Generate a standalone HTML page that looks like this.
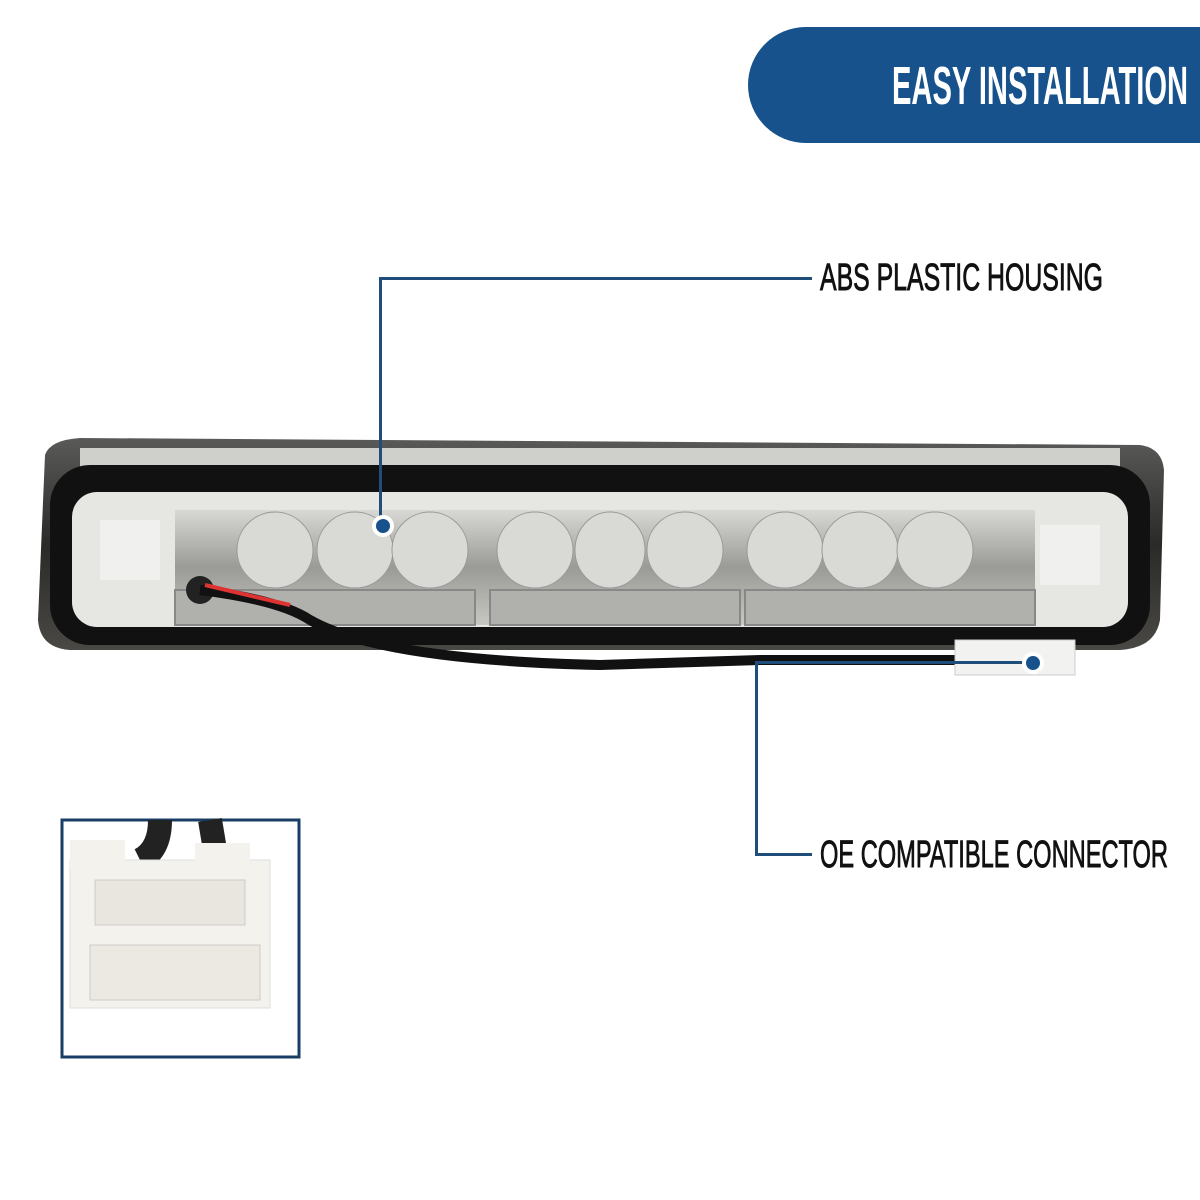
<!DOCTYPE html>
<html><head><meta charset="utf-8"><style>
html,body{margin:0;padding:0;background:#fff;}
body{width:1200px;height:1200px;position:relative;overflow:hidden;font-family:"Liberation Sans",sans-serif;}
.pill{position:absolute;left:748px;top:27px;width:470px;height:116px;background:#17528c;border-radius:58px 0 0 58px;}
.ln{position:absolute;background:#1f4e7a;}
.dot{position:absolute;width:14px;height:14px;border-radius:50%;background:#17528c;border:4px solid #fff;}
</style></head><body>
<div class="pill"></div>

<svg width="1200" height="1200" style="position:absolute;left:0;top:0">
  <defs>
    <linearGradient id="h" x1="0" y1="0" x2="0" y2="1">
      <stop offset="0" stop-color="#5a5a58"/><stop offset="0.5" stop-color="#2a2a28"/><stop offset="1" stop-color="#4a4844"/>
    </linearGradient>
    <linearGradient id="m" x1="0" y1="0" x2="0" y2="1">
      <stop offset="0" stop-color="#d8d8d4"/><stop offset="0.5" stop-color="#9a9a96"/><stop offset="1" stop-color="#c8c8c2"/>
    </linearGradient>
  </defs>
  <text x="892" y="104" font-family="Liberation Sans, sans-serif" font-weight="bold" font-size="54" fill="#fff" textLength="296" lengthAdjust="spacingAndGlyphs">EASY INSTALLATION</text>
  <text x="820" y="290" font-family="Liberation Sans, sans-serif" font-size="38" fill="#111" stroke="#111" stroke-width="0.9" textLength="283" lengthAdjust="spacingAndGlyphs">ABS PLASTIC HOUSING</text>
  <text x="820" y="867" font-family="Liberation Sans, sans-serif" font-size="38" fill="#111" stroke="#111" stroke-width="0.9" textLength="348" lengthAdjust="spacingAndGlyphs">OE COMPATIBLE CONNECTOR</text>

  <path d="M45 455 Q50 440 80 438 L1140 445 Q1162 448 1164 470 L1160 620 Q1155 648 1120 650 L70 650 Q40 648 38 620 Z" fill="url(#h)"/>
  <rect x="80" y="448" width="1040" height="40" fill="#cfcfcc"/>
  <rect x="50" y="465" width="1100" height="180" rx="40" fill="#111"/>
  <rect x="72" y="492" width="1056" height="135" rx="25" fill="#e6e6e2"/>
  <rect x="175" y="510" width="860" height="115" fill="url(#m)"/>
  <g fill="#b0b0ac" stroke="#888" stroke-width="2">
    <rect x="175" y="590" width="300" height="35"/>
    <rect x="490" y="590" width="250" height="35"/>
    <rect x="745" y="590" width="290" height="35"/>
  </g>
  <g fill="#d9d9d6" stroke="#999">
    <ellipse cx="275" cy="550" rx="38" ry="38"/><ellipse cx="355" cy="550" rx="38" ry="38"/><ellipse cx="430" cy="550" rx="38" ry="38"/>
    <ellipse cx="535" cy="550" rx="38" ry="38"/><ellipse cx="610" cy="550" rx="35" ry="38"/><ellipse cx="685" cy="550" rx="38" ry="38"/>
    <ellipse cx="785" cy="550" rx="38" ry="38"/><ellipse cx="860" cy="550" rx="38" ry="38"/><ellipse cx="935" cy="550" rx="38" ry="38"/>
  </g>
  <rect x="100" y="520" width="60" height="60" fill="#f0f0ee"/>
  <rect x="1040" y="525" width="60" height="60" fill="#f0f0ee"/>
  <circle cx="200" cy="590" r="14" fill="#222"/>
  <path d="M200 590 Q280 600 310 620 Q380 660 600 665 L760 660 L960 660" stroke="#111" stroke-width="10" fill="none"/>
  <path d="M205 585 L290 605" stroke="#d33" stroke-width="4"/>
  <rect x="955" y="640" width="120" height="35" fill="#f2f2f0" stroke="#ccc"/>
  <rect x="62" y="820" width="237" height="237" fill="#fff" stroke="#1a3d66" stroke-width="3"/>
  <path d="M160 820 Q160 850 140 860" stroke="#222" stroke-width="24" fill="none"/>
  <path d="M210 820 L215 850" stroke="#222" stroke-width="24"/>
  <rect x="70" y="860" width="200" height="148" fill="#f4f2ec" stroke="#ddd"/>
  <rect x="70" y="840" width="55" height="30" fill="#f4f2ec"/>
  <rect x="195" y="843" width="55" height="30" fill="#f4f2ec"/>
  <rect x="95" y="880" width="150" height="45" fill="#e8e6df" stroke="#ccc"/>
  <rect x="90" y="945" width="170" height="55" fill="#ebe9e2" stroke="#ccc"/>
</svg>

<div class="ln" style="left:379px;top:277px;width:433px;height:3px"></div>
<div class="ln" style="left:379px;top:277px;width:3px;height:248px"></div>
<div class="dot" style="left:372px;top:515px"></div>

<div class="ln" style="left:755px;top:661px;width:277px;height:3px"></div>
<div class="ln" style="left:755px;top:661px;width:3px;height:195px"></div>
<div class="ln" style="left:755px;top:853px;width:57px;height:3px"></div>
<div class="dot" style="left:1022px;top:652px"></div>
</body></html>
